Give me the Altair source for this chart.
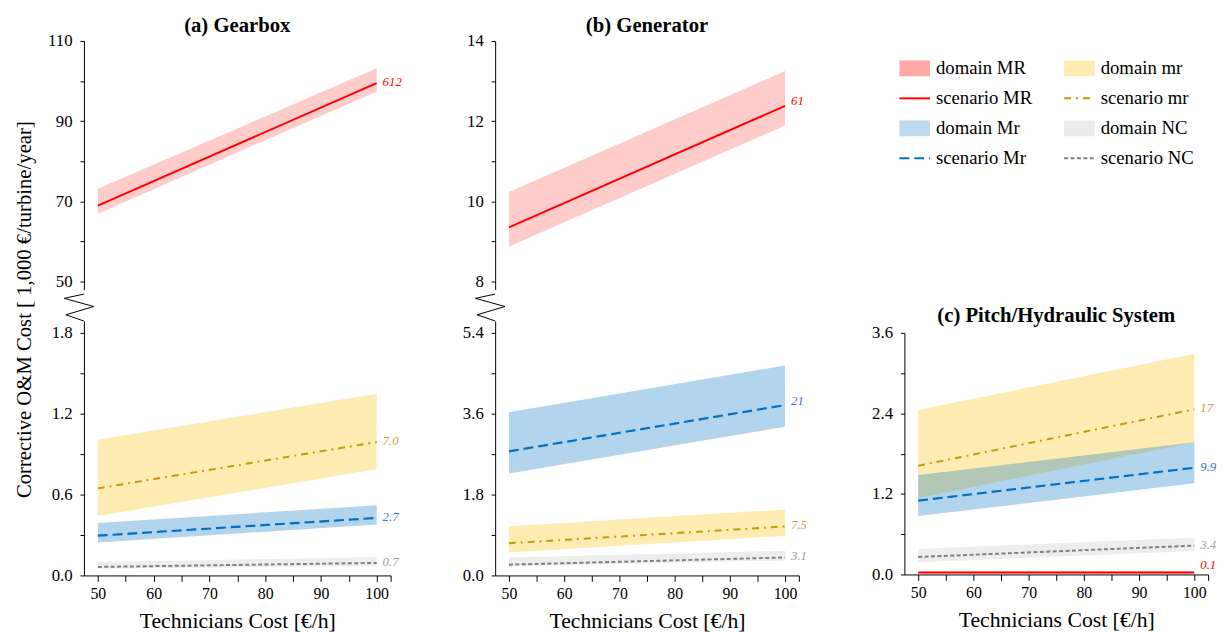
import altair as alt
import pandas as pd

FONT = "Liberation Serif"

# ---------------- data ----------------
X_VALS = [50, 100]
SERIES = ["MR", "mr", "Mr", "NC"]

# (a) Gearbox
GB_MR_LINE = [68.9, 99.5]
GB_MR_LO = [66.9, 97.4]
GB_MR_HI = [73.1, 103.2]
GB_mr_LINE = [0.646, 0.99]
GB_mr_LO = [0.441, 0.788]
GB_mr_HI = [1.007, 1.348]
GB_Mr_LINE = [0.295, 0.427]
GB_Mr_LO = [0.244, 0.378]
GB_Mr_HI = [0.39, 0.52]
GB_NC_LINE = [0.063, 0.093]
GB_NC_LO = [0.05, 0.07]
GB_NC_HI = [0.10, 0.135]
GB_LABELS = ["612", "7.0", "2.7", "0.7"]

# (b) Generator
GN_MR_LINE = [9.35, 12.38]
GN_MR_LO = [8.87, 11.89]
GN_MR_HI = [10.23, 13.25]
GN_mr_LINE = [0.716, 1.09]
GN_mr_LO = [0.51, 0.883]
GN_mr_HI = [1.095, 1.467]
GN_Mr_LINE = [2.76, 3.79]
GN_Mr_LO = [2.27, 3.31]
GN_Mr_HI = [3.63, 4.67]
GN_NC_LINE = [0.24, 0.40]
GN_NC_LO = [0.20, 0.335]
GN_NC_HI = [0.40, 0.55]
GN_LABELS = ["61", "7.5", "21", "3.1"]

# (c) Pitch/Hydraulic System
PH_MR_LINE = [0.03, 0.03]
PH_MR_LO = [0.015, 0.015]
PH_MR_HI = [0.045, 0.05]
PH_mr_LINE = [1.62, 2.46]
PH_mr_LO = [1.14, 1.97]
PH_mr_HI = [2.45, 3.29]
PH_Mr_LINE = [1.10, 1.59]
PH_Mr_LO = [0.87, 1.36]
PH_Mr_HI = [1.48, 1.97]
PH_NC_LINE = [0.26, 0.43]
PH_NC_LO = [0.18, 0.35]
PH_NC_HI = [0.38, 0.55]
PH_LABELS = ["0.1", "17", "9.9", "3.4"]

LEGEND_LABELS = ["domain MR", "scenario MR", "domain Mr", "scenario Mr",
                 "domain mr", "scenario mr", "domain NC", "scenario NC"]
LEGEND_SERIES = ["MR", "MR", "Mr", "Mr", "mr", "mr", "NC", "NC"]
LEGEND_KIND = ["domain", "scenario"] * 4
LEGEND_COL = [0, 0, 0, 0, 1, 1, 1, 1]
LEGEND_ROW = [0, 1, 2, 3, 0, 1, 2, 3]

X_TITLE = "Technicians Cost [€/h]"
Y_TITLE = "Corrective O&M Cost [ 1,000 €/turbine/year]"

# ---------------- styles ----------------
LINE_COLOR = {"MR": "#FF0000", "mr": "#C49A00", "Mr": "#0070C0", "NC": "#7F7F7F"}
FILL_COLOR = {"MR": "#FF0000", "mr": "#FFC000", "Mr": "#0070C0", "NC": "#A6A6A6"}
FILL_OPAC = {"MR": 0.2, "mr": 0.3, "Mr": 0.3, "NC": 0.2}
LEG_OPAC = {"MR": 0.34, "mr": 0.3, "Mr": 0.26, "NC": 0.22}
DASH = {"MR": None, "mr": [7, 5, 2, 5], "Mr": [10, 5], "NC": [4, 2.5]}
LWIDTH = {"MR": 2, "mr": 2, "Mr": 2.2, "NC": 2}
LABEL_COLOR = {"MR": "#FF0000", "mr": "#C9A227", "Mr": "#4472C4", "NC": "#A0A0A0"}

XDOM = [47.5, 102.5]
X_TICKS = [50, 55, 60, 65, 70, 75, 80, 85, 90, 95, 100, 102.5]


def x_enc(show_axis):
    if show_axis:
        ax = alt.Axis(values=X_TICKS, labelExpr="datum.value % 10 == 0 ? datum.label : ''",
                      format="d", tickSize=6, labelPadding=4, labelFontSize=16,
                      title=X_TITLE, titleFontSize=22, titlePadding=10, domainWidth=1)
    else:
        ax = None
    return alt.X("x:Q", scale=alt.Scale(domain=XDOM, nice=False, zero=False), axis=ax)


def y_axis(values, labeled, fmt, title=None, title_y=None):
    kw = dict(values=values,
              labelExpr="indexof(%s, datum.value) >= 0 ? datum.label : ''" % str(labeled),
              format=fmt, tickSize=4, labelPadding=8, minExtent=40, maxExtent=40)
    if title:
        kw.update(title=title, titlePadding=10, titleFontSize=21)
        if title_y is not None:
            kw.update(titleY=title_y)
    else:
        kw.update(title=None)
    return alt.Axis(**kw)


def panel(series_data, labels, keys, ydom, yaxis, width, height, show_x, title=None,
          label_dy=None, title_offset=-21):
    ysc = alt.Scale(domain=ydom, nice=False, zero=False)
    xe = x_enc(show_x)
    areas, lines, texts = [], [], []
    for key in keys:
        line, lo, hi = series_data[key]
        df = pd.DataFrame({"x": X_VALS, "y": line, "lo": lo, "hi": hi})
        areas.append(alt.Chart(df).mark_area(color=FILL_COLOR[key], opacity=FILL_OPAC[key])
                     .encode(x=xe, y=alt.Y("lo:Q", scale=ysc, axis=yaxis), y2="hi:Q"))
        lkw = dict(color=LINE_COLOR[key], strokeWidth=LWIDTH[key])
        if DASH[key]:
            lkw["strokeDash"] = DASH[key]
        lines.append(alt.Chart(df).mark_line(**lkw)
                     .encode(x=xe, y=alt.Y("y:Q", scale=ysc, axis=yaxis)))
        tdf = pd.DataFrame({"x": [X_VALS[-1]], "y": [line[-1]],
                            "label": [labels[SERIES.index(key)]]})
        dy = (label_dy or {}).get(key, -1)
        texts.append(alt.Chart(tdf).mark_text(align="left", baseline="middle", dx=6, dy=dy,
                                              font=FONT, fontStyle="italic", fontSize=13,
                                              color=LABEL_COLOR[key])
                     .encode(x=xe, y=alt.Y("y:Q", scale=ysc, axis=yaxis), text="label:N"))
    ch = alt.layer(*(areas + lines + texts)).properties(width=width, height=height)
    if title:
        ch = ch.properties(title=alt.TitleParams(title, font=FONT, fontSize=21, fontWeight="bold",
                                                 anchor="middle", offset=title_offset,
                                                 frame="group", baseline="alphabetic",
                                                 color="black"))
    return ch


ZIGZAG = "M0,-27.3 L-20,-23 L10,-14.7 L-18.3,-6.3 L0,0"


def breakmark():
    return alt.Chart(alt.Data(values=[{"k": 1}])).mark_point(
        shape=ZIGZAG, size=4, filled=False, stroke="black", strokeWidth=1, opacity=1
    ).encode(x=alt.value(0), y=alt.value(0))


W_A, W_B, W_C = 311, 308, 308
H_TOP, H_BOT, H_C, H_LEG = 252, 258, 245, 255

gb = {"MR": (GB_MR_LINE, GB_MR_LO, GB_MR_HI), "mr": (GB_mr_LINE, GB_mr_LO, GB_mr_HI),
      "Mr": (GB_Mr_LINE, GB_Mr_LO, GB_Mr_HI), "NC": (GB_NC_LINE, GB_NC_LO, GB_NC_HI)}
gn = {"MR": (GN_MR_LINE, GN_MR_LO, GN_MR_HI), "mr": (GN_mr_LINE, GN_mr_LO, GN_mr_HI),
      "Mr": (GN_Mr_LINE, GN_Mr_LO, GN_Mr_HI), "NC": (GN_NC_LINE, GN_NC_LO, GN_NC_HI)}
ph = {"MR": (PH_MR_LINE, PH_MR_LO, PH_MR_HI), "mr": (PH_mr_LINE, PH_mr_LO, PH_mr_HI),
      "Mr": (PH_Mr_LINE, PH_Mr_LO, PH_Mr_HI), "NC": (PH_NC_LINE, PH_NC_LO, PH_NC_HI)}

a_top = panel(gb, GB_LABELS, ["MR"], [48, 110],
              y_axis([50, 60, 70, 80, 90, 100, 110], [50, 70, 90, 110], "d"),
              W_A, H_TOP, False, "(a) Gearbox")
a_bot = panel(gb, GB_LABELS, ["NC", "mr", "Mr"], [0, 1.888],
              y_axis([0, 0.3, 0.6, 0.9, 1.2, 1.5, 1.8], [0, 0.6, 1.2, 1.8], ".1f",
                     title=Y_TITLE, title_y=-12),
              W_A, H_BOT, True)
a_bot = alt.layer(a_bot, breakmark())

b_top = panel(gn, GN_LABELS, ["MR"], [7.8, 14],
              y_axis([8, 9, 10, 11, 12, 13, 14], [8, 10, 12, 14], "d"),
              W_B, H_TOP, False, "(b) Generator", label_dy={"MR": -5})
b_bot = panel(gn, GN_LABELS, ["NC", "mr", "Mr"], [0, 5.66],
              y_axis([0, 0.9, 1.8, 2.7, 3.6, 4.5, 5.4], [0, 1.8, 3.6, 5.4], ".1f"),
              W_B, H_BOT, True, label_dy={"Mr": -4})
b_bot = alt.layer(b_bot, breakmark())

c_pan = panel(ph, PH_LABELS, ["NC", "mr", "Mr", "MR"], [0, 3.6],
              y_axis([0, 0.6, 1.2, 1.8, 2.4, 3.0, 3.6], [0, 1.2, 2.4, 3.6], ".1f"),
              W_C, H_C, True, "(c) Pitch/Hydraulic System", label_dy={"MR": -7},
              title_offset=-19)

# ---------------- legend panel ----------------
leg_df = pd.DataFrame({"label": LEGEND_LABELS, "series": LEGEND_SERIES, "kind": LEGEND_KIND,
                       "col": LEGEND_COL, "row": LEGEND_ROW})
lx = alt.X("col:Q", scale=alt.Scale(domain=[-0.0628, 1.7815], nice=False, zero=False), axis=None)
ly = alt.Y("row:Q", scale=alt.Scale(domain=[7.47, -0.914], nice=False, zero=False), axis=None)
RECT = "M-15.5,-8 L15.5,-8 L15.5,8 L-15.5,8 Z"
SEG = "M-15.5,0 L15.5,0"
leg_layers = []
for key in ["MR", "Mr", "mr", "NC"]:
    base = alt.Chart(leg_df)
    leg_layers.append(base.transform_filter(
        f"datum.series == '{key}' && datum.kind == 'domain'").mark_point(
        shape=RECT, size=4, filled=True, fill=FILL_COLOR[key], opacity=LEG_OPAC[key],
        strokeWidth=0).encode(x=lx, y=ly))
    skw = dict(shape=SEG, size=4, filled=False, stroke=LINE_COLOR[key], strokeWidth=2, opacity=1)
    if DASH[key]:
        skw["strokeDash"] = DASH[key]
    leg_layers.append(base.transform_filter(
        f"datum.series == '{key}' && datum.kind == 'scenario'").mark_point(**skw)
        .encode(x=lx, y=ly))
leg_layers.append(alt.Chart(leg_df).mark_text(align="left", baseline="middle", dx=21.5,
                                              font=FONT, fontSize=19, color="black")
                  .encode(x=lx, y=ly, text="label:N"))
legend = alt.layer(*leg_layers).properties(width=W_C, height=H_LEG)

col_a = alt.vconcat(a_top, a_bot, spacing=32, bounds="flush")
col_b = alt.vconcat(b_top, b_bot, spacing=32, bounds="flush")
col_c = alt.vconcat(legend, c_pan, spacing=41, bounds="flush")

ab = alt.hconcat(col_a, col_b, spacing=54)
chart = alt.hconcat(ab, col_c, spacing=58).properties(
    padding={"left": 5, "top": 3, "right": 0, "bottom": 0}, background="white"
).configure_view(stroke=None).configure_axis(
    labelFont=FONT, titleFont=FONT, labelFontSize=17, labelColor="black", titleColor="black",
    titleFontWeight="normal", domainColor="black", tickColor="black", grid=False
)

chart.save("out.html", embed_options={"renderer": "svg", "actions": False})
